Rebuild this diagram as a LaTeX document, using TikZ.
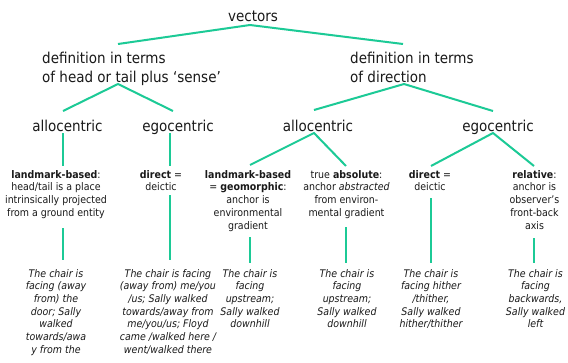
\documentclass[tikz,border=0pt]{standalone}
\usepackage{fontspec}
\setmainfont{DejaVu Sans Condensed}
\definecolor{linegreen}{RGB}{28,202,150}
\definecolor{textc}{RGB}{25,25,25}
\begin{document}
\begin{tikzpicture}[x=1pt,y=-1pt,
  big/.style={font=\fontsize{15}{19}\selectfont, inner sep=0pt, text=textc},
  small/.style={font=\fontsize{10.5}{12.8}\selectfont, inner sep=0pt, align=center, anchor=north, text=textc},
  ex/.style={font=\fontsize{10.5}{12.7}\selectfont\itshape, inner sep=0pt, align=center, anchor=north, text=textc},
  conn/.style={draw=linegreen, line width=2pt}]
\useasboundingbox[fill=white] (0,0) rectangle (568,362);

% level 0-2 texts
\node[big, anchor=base] (vectors) at (253,21) {vectors};
\node[big, anchor=north west, align=left] (defL) at (42,51.6) {definition in terms\\of head or tail plus ‘sense’};
\node[big, anchor=north west, align=left] (defR) at (350,51.6) {definition in terms\\of direction};
\node[big, anchor=base] (alloL) at (67.5,131) {allocentric};
\node[big, anchor=base] (egoL) at (178,131) {egocentric};
\node[big, anchor=base] (alloR) at (318,131) {allocentric};
\node[big, anchor=base] (egoR) at (498,131) {egocentric};

% level 3 texts
\node[small] (lmL) at (56,170) {\textbf{landmark-based}:\\head/tail is a place\\intrinsically projected\\from a ground entity};
\node[small] (dirL) at (161,170) {\textbf{direct} =\\deictic};
\node[small] (lmR) at (248,170) {\textbf{landmark-based}\\= \textbf{geomorphic}:\\anchor is\\environmental\\gradient};
\node[small] (abs) at (346.5,170) {true \textbf{absolute}:\\anchor \textit{abstracted}\\from environ-\\mental gradient};
\node[small] (dirR) at (430,170) {\textbf{direct} =\\deictic};
\node[small] (rel) at (534.5,170) {\textbf{relative}:\\anchor is\\observer’s\\front-back\\axis};

% examples
\node[ex] (exA) at (56,269) {The chair is\\facing (away\\from) the\\door; Sally\\walked\\towards/awa\\y from the};
\node[ex] (exB) at (168,269) {The chair is facing\\(away from) me/you\\/us; Sally walked\\towards/away from\\me/you/us; Floyd\\came /walked here /\\went/walked there};
\node[ex] (exC) at (250,269) {The chair is\\facing\\upstream;\\Sally walked\\downhill};
\node[ex] (exD) at (347,269) {The chair is\\facing\\upstream;\\Sally walked\\downhill};
\node[ex] (exE) at (431,269) {The chair is\\facing hither\\/thither,\\Sally walked\\hither/thither};
\node[ex] (exF) at (535.5,269) {The chair is\\facing\\backwards,\\Sally walked\\left};

% connector end points
\coordinate (vectors-j) at (250,25);
\coordinate (defL-t) at (118,44);
\coordinate (defR-t) at (403,44);
\coordinate (defL-j) at (118,84);
\coordinate (alloL-t) at (63,111);
\coordinate (egoL-t) at (173,111);
\coordinate (defR-j) at (404,84);
\coordinate (alloR-t) at (314,110);
\coordinate (egoR-t) at (493,111);
\coordinate (alloL-b) at (63,133);
\coordinate (lmL-t) at (63,166);
\coordinate (egoL-b) at (170,133);
\coordinate (dirL-t) at (170,166);
\coordinate (alloR-j) at (314,133);
\coordinate (lmR-t) at (250,165);
\coordinate (abs-t) at (346,166);
\coordinate (egoR-j) at (493,133);
\coordinate (dirR-t) at (431,166);
\coordinate (rel-t) at (534,166);
\coordinate (lmL-b) at (63,228);
\coordinate (exA-t) at (63,260);
\coordinate (dirL-b) at (170,195);
\coordinate (exB-t) at (170,260);
\coordinate (lmR-b) at (250,237);
\coordinate (exC-t) at (250,263);
\coordinate (abs-b) at (346,227);
\coordinate (exD-t) at (346,263);
\coordinate (dirR-b) at (431,198);
\coordinate (exE-t) at (431,263);
\coordinate (rel-b) at (534,238);
\coordinate (exF-t) at (534,263);

\draw[conn] (defL-t) -- (vectors-j) -- (defR-t);
\draw[conn] (alloL-t) -- (defL-j) -- (egoL-t);
\draw[conn] (alloR-t) -- (defR-j) -- (egoR-t);
\draw[conn] (alloL-b) -- (lmL-t);
\draw[conn] (egoL-b) -- (dirL-t);
\draw[conn] (lmR-t) -- (alloR-j) -- (abs-t);
\draw[conn] (dirR-t) -- (egoR-j) -- (rel-t);
\draw[conn] (lmL-b) -- (exA-t);
\draw[conn] (dirL-b) -- (exB-t);
\draw[conn] (lmR-b) -- (exC-t);
\draw[conn] (abs-b) -- (exD-t);
\draw[conn] (dirR-b) -- (exE-t);
\draw[conn] (rel-b) -- (exF-t);
\end{tikzpicture}
\end{document}
